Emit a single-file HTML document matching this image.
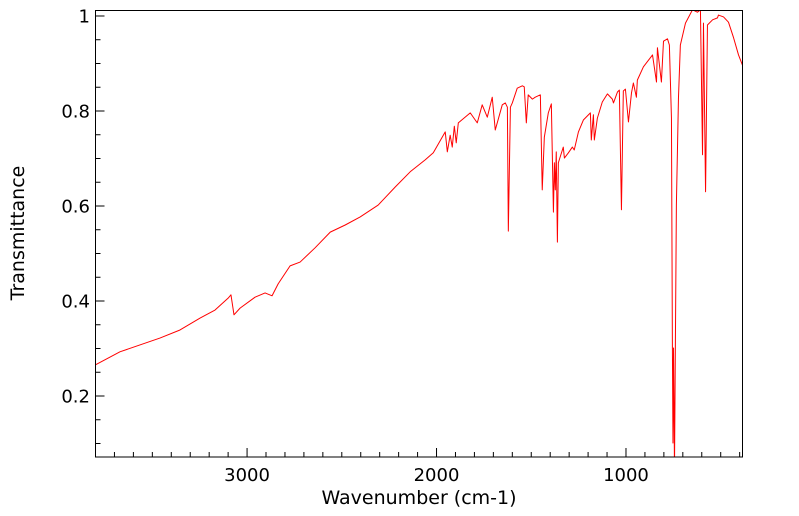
<!DOCTYPE html>
<html><head><meta charset="utf-8"><style>
body{margin:0;background:#fff;}
svg{display:block;font-family:"DejaVu Sans","Liberation Sans",sans-serif;}
</style></head><body>
<svg id="chart" width="799" height="516" viewBox="0 0 799 516" xmlns="http://www.w3.org/2000/svg">
<defs><clipPath id="clip"><rect x="95.5" y="10" width="647" height="447"/></clipPath></defs>
<g id="axes"></g>
<path id="line" fill="none" stroke="#ff0000" stroke-width="1" stroke-linejoin="round" clip-path="url(#clip)"/>
<rect x="95.5" y="10.5" width="647" height="446.5" fill="none" stroke="#000" stroke-width="1"/>
<text x="419" y="504" font-size="19" text-anchor="middle">Wavenumber (cm-1)</text>
<text x="24" y="233" font-size="19" text-anchor="middle" transform="rotate(-90 24 233)">Transmittance</text>
</svg>
<script>
const wavenumbers = [3803,3671,3460,3354,3248,3169,3100,3085,3069,3037,2958,2905,2868,2836,2773,2720,2641,2561,2482,2403,2308,2218,2139,2060,2017,1954,1943,1928,1917,1906,1896,1885,1822,1785,1759,1732,1706,1690,1653,1637,1626,1621,1610,1600,1574,1547,1537,1526,1516,1494,1479,1452,1442,1431,1410,1394,1383,1378,1373,1368,1362,1357,1331,1325,1304,1283,1273,1251,1225,1188,1183,1172,1167,1151,1125,1098,1072,1066,1045,1035,1024,1014,1003,987,971,961,945,940,908,860,839,834,813,802,781,771,760,755,752,749,744,734,723,713,686,649,623,607,596,591,580,570,543,517,512,485,459,432,406,380];
const transmittance = [0.265,0.293,0.322,0.339,0.364,0.381,0.406,0.413,0.371,0.385,0.408,0.417,0.411,0.436,0.474,0.482,0.512,0.545,0.560,0.577,0.602,0.640,0.672,0.697,0.712,0.756,0.714,0.749,0.724,0.768,0.733,0.775,0.796,0.775,0.813,0.787,0.829,0.760,0.813,0.817,0.808,0.547,0.808,0.817,0.848,0.853,0.851,0.775,0.834,0.825,0.829,0.834,0.634,0.745,0.796,0.815,0.587,0.691,0.634,0.714,0.524,0.691,0.724,0.701,0.712,0.724,0.718,0.756,0.781,0.796,0.739,0.792,0.739,0.785,0.819,0.836,0.825,0.817,0.840,0.844,0.592,0.842,0.846,0.777,0.838,0.859,0.829,0.865,0.893,0.918,0.861,0.933,0.861,0.947,0.952,0.939,0.785,0.301,0.101,0.301,0.044,0.602,0.827,0.939,0.985,1.013,1.008,1.013,0.708,0.985,0.630,0.981,0.992,0.996,1.002,0.998,0.987,0.954,0.918,0.891];
const xTicks = [3000,2000,1000];
const xTickLabels = ["3000","2000","1000"];
const yTicks = [0.2,0.4,0.6,0.8,1];
const yTickLabels = ["0.2","0.4","0.6","0.8","1"];

const X0=95.5,X1=742.5,Y0=10,Y1=457;
const xMin=3800,xMax=385,yMin=0.0716,yMax=1.0126;
function xs(v){return X0+(xMin-v)/(xMin-xMax)*(X1-X0);}
function ys(v){return Y1-(v-yMin)/(yMax-yMin)*(Y1-Y0);}
const NS="http://www.w3.org/2000/svg";
const axes=document.getElementById('axes');
function mk(tag,attrs){const e=document.createElementNS(NS,tag);for(const k in attrs)e.setAttribute(k,attrs[k]);axes.appendChild(e);return e;}
for(let v=3700;v>=400;v-=100){
  const major=v%1000===0;const x=xs(v);
  const t=mk('line',{x1:x,x2:x,y1:Y1,y2:Y1-(major?9:5),stroke:'#000','stroke-width':1});
  
  
}
xTicks.forEach((v,i)=>{
  const t=mk('text',{x:xs(v),y:481,'font-size':18,'text-anchor':'middle'});
  t.textContent=xTickLabels[i];
  
  
});
for(let k=2;k<=20;k++){
  const v=k*0.05;const major=k%4===0;const y=ys(v);
  if(y<Y0||y>Y1)continue;
  const t=mk('line',{x1:X0,x2:X0+(major?9:5),y1:y,y2:y,stroke:'#000','stroke-width':1});
  
  
}
yTicks.forEach((v,i)=>{
  const t=mk('text',{x:90,y:ys(v)+6.5,'font-size':18,'text-anchor':'end'});
  t.textContent=yTickLabels[i];
  
  
});
let d='';
wavenumbers.forEach((w,i)=>{d+=(i?'L':'M')+xs(w).toFixed(2)+' '+ys(transmittance[i]).toFixed(2);});
document.getElementById('line').setAttribute('d',d);
</script>
</body></html>
